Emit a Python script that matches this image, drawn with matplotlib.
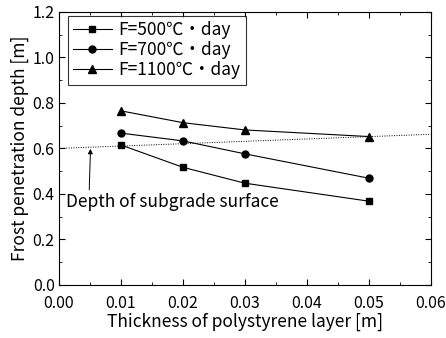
import matplotlib.pyplot as plt
from matplotlib.ticker import MultipleLocator

plt.rcParams['font.family'] = ['Noto Sans CJK JP', 'DejaVu Sans']

# thickness of polystyrene layer [m]
thickness = [0.01, 0.02, 0.03, 0.05]
depth_500 = [0.615, 0.517, 0.447, 0.368]
depth_700 = [0.667, 0.633, 0.576, 0.469]
depth_1100 = [0.765, 0.713, 0.681, 0.652]

# depth of subgrade surface (dotted reference line)
subgrade_x = [0.0, 0.06]
subgrade_y = [0.600, 0.662]

fig = plt.figure(figsize=(4.46, 3.38), dpi=100)
ax = fig.add_axes([0.132, 0.157, 0.834, 0.808])

ax.plot(subgrade_x, subgrade_y, color='black', lw=0.7, ls=(0, (1, 1.5)))
ax.plot(thickness, depth_500, color='black', lw=0.8, marker='s', ms=4.5,
        label='F=500\u2103\u30fbday')
ax.plot(thickness, depth_700, color='black', lw=0.8, marker='o', ms=5,
        label='F=700\u2103\u30fbday')
ax.plot(thickness, depth_1100, color='black', lw=0.8, marker='^', ms=5.5,
        label='F=1100\u2103\u30fbday')

ax.annotate('Depth of subgrade surface', xy=(0.0051, 0.598), xytext=(0.0011, 0.366),
            fontsize=12.5, va='center', ha='left',
            arrowprops=dict(arrowstyle='-|>', color='black', lw=0.7,
                            mutation_scale=7, shrinkA=0, shrinkB=0,
                            relpos=(0.11, 0.9)))

ax.set_xlim(0, 0.06)
ax.set_ylim(0, 1.2)
ax.xaxis.set_major_locator(MultipleLocator(0.01))
ax.xaxis.set_minor_locator(MultipleLocator(0.005))
ax.yaxis.set_major_locator(MultipleLocator(0.2))
ax.yaxis.set_minor_locator(MultipleLocator(0.1))
ax.xaxis.set_major_formatter(plt.FormatStrFormatter('%.2f'))
ax.yaxis.set_major_formatter(plt.FormatStrFormatter('%.1f'))
ax.tick_params(which='both', direction='in', top=True, right=True, labelsize=11.5)
ax.tick_params(which='major', length=4)
ax.tick_params(which='minor', length=2)
ax.tick_params(axis='x', which='major', pad=7)
ax.tick_params(axis='y', which='major', pad=3)

ax.set_xlabel('Thickness of polystyrene layer [m]', fontsize=12.5, labelpad=1)
ax.set_ylabel('Frost penetration depth [m]', fontsize=12.5, labelpad=3)

leg = ax.legend(loc='upper left', bbox_to_anchor=(0.025, 0.985), fontsize=12.5,
                frameon=True, fancybox=False, edgecolor='black',
                handlelength=2.2, handletextpad=0.4, borderpad=0.3,
                labelspacing=0.12, borderaxespad=0)
leg.get_frame().set_linewidth(0.8)

plt.savefig('out.png', dpi=100)
